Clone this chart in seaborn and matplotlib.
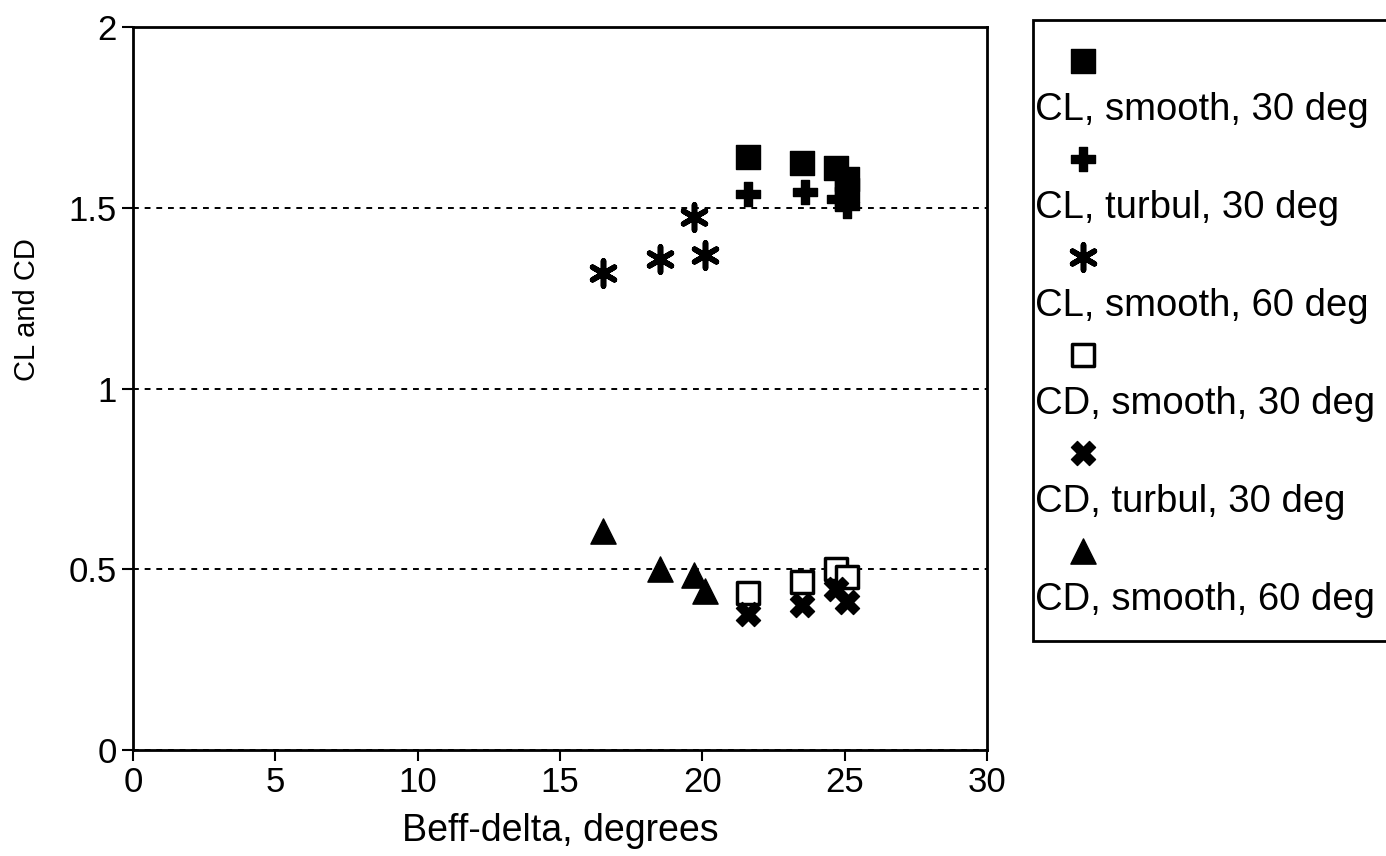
import pandas as pd
import matplotlib.pyplot as plt
import seaborn as sns
from matplotlib.lines import Line2D

# Data
cl_smooth30_x = [21.6, 23.5, 24.7, 25.1, 25.1]
cl_smooth30_y = [1.64, 1.625, 1.61, 1.58, 1.55]
cl_turbul30_x = [21.6, 23.6, 24.8, 25.1]
cl_turbul30_y = [1.54, 1.545, 1.525, 1.505]
cl_smooth60_x = [16.5, 18.5, 19.7, 20.1]
cl_smooth60_y = [1.32, 1.36, 1.475, 1.37]
cd_smooth30_x = [21.6, 23.5, 24.7, 25.1]
cd_smooth30_y = [0.435, 0.465, 0.50, 0.478]
cd_turbul30_x = [21.6, 23.5, 24.7, 25.1]
cd_turbul30_y = [0.375, 0.40, 0.445, 0.41]
cd_smooth60_x = [16.5, 18.5, 19.7, 20.1]
cd_smooth60_y = [0.605, 0.50, 0.485, 0.44]

labels = ["CL, smooth, 30 deg", "CL, turbul, 30 deg", "CL, smooth, 60 deg",
          "CD, smooth, 30 deg", "CD, turbul, 30 deg", "CD, smooth, 60 deg"]
x_ticks = [0, 5, 10, 15, 20, 25, 30]
y_ticks = [0, 0.5, 1, 1.5, 2]
y_ticklabels = ["0", "0.5", "1", "1.5", "2"]

sns.set_style("ticks")
plt.rcParams["font.family"] = ["Liberation Sans", "DejaVu Sans"]
plt.rcParams["text.color"] = "black"
plt.rcParams["axes.labelcolor"] = "black"

series = [
    (cl_smooth30_x, cl_smooth30_y, dict(marker="s", s=280, facecolor="black", edgecolor="black", linewidth=1)),
    (cl_turbul30_x, cl_turbul30_y, dict(marker="P", s=300, facecolor="black", edgecolor="black", linewidth=1)),
    (cl_smooth60_x, cl_smooth60_y, dict(marker=(6, 2, 0), s=330, color="black", linewidth=4)),
    (cd_smooth30_x, cd_smooth30_y, dict(marker="s", s=240, facecolor="white", edgecolor="black", linewidth=2.5)),
    (cd_turbul30_x, cd_turbul30_y, dict(marker="X", s=300, facecolor="black", edgecolor="black", linewidth=1)),
    (cd_smooth60_x, cd_smooth60_y, dict(marker="^", s=330, facecolor="black", edgecolor="black", linewidth=1)),
]

fig = plt.figure(figsize=(13.86, 8.56), dpi=100)
ax = fig.add_axes([0.096, 0.124, 0.616, 0.844])

handles = []
for (xs, ys, kw), lab in zip(series, labels):
    df = pd.DataFrame({"x": xs, "y": ys})
    sns.scatterplot(data=df, x="x", y="y", ax=ax, zorder=3, **kw)
    handles.append(ax.collections[-1])

ax.set_xlim(0, 30)
ax.set_ylim(0, 2)
ax.set_xticks(x_ticks)
ax.set_yticks(y_ticks)
ax.set_yticklabels(y_ticklabels)
ax.tick_params(direction="out", length=8, width=1.5, labelsize=25, colors="black")
ax.grid(axis="y", linestyle=(0, (3, 3)), color="black", linewidth=1.4)
for sp in ax.spines.values():
    sp.set_visible(True)
    sp.set_linewidth(2)
    sp.set_color("black")

ax.set_xlabel("Beff-delta, degrees", fontsize=27, labelpad=10)
ax.set_ylabel("CL and CD", fontsize=21)
ax.yaxis.set_label_coords(-0.108, 0.61)

# legend: marker row above each label row
blank = Line2D([], [], linestyle="none", marker=None)
leg_handles, leg_labels = [], []
for h, lab in zip(handles, labels):
    leg_handles += [h, blank]
    leg_labels += ["", lab]
leg = fig.legend(leg_handles, leg_labels, loc="upper left",
                 bbox_to_anchor=(1033 / 1386, 1 - 20 / 856), borderaxespad=0,
                 fontsize=27.5, handlelength=1.41, handletextpad=-1.96,
                 labelspacing=0.34, borderpad=0.6, frameon=True,
                 fancybox=False, edgecolor="black", framealpha=1,
                 scatterpoints=1)
leg.get_frame().set_linewidth(2)

fig.savefig("out.png", dpi=100)
